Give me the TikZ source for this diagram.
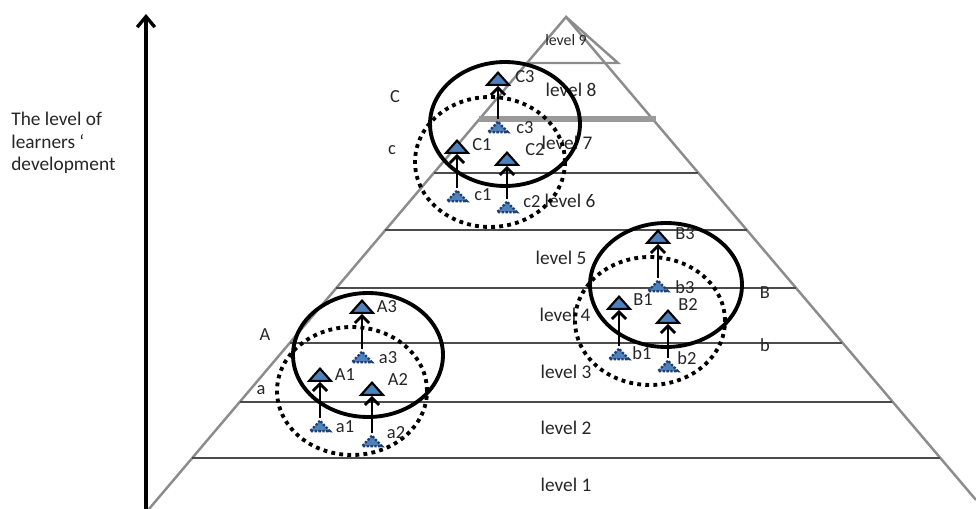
\documentclass[tikz,border=0pt]{standalone}
\usepackage{fontspec}
\setmainfont{Carlito}
\usepackage{xcolor}
\usetikzlibrary{calc, positioning, shapes.geometric, arrows.meta}
\definecolor{triblue}{HTML}{4F81BD}
\definecolor{dotnavy}{HTML}{1F3F6F}

\tikzset{
  pyredge/.style={draw=black!45, line width=1.4pt},
  lvlline/.style={draw=black!70, line width=1.6pt},
  lvltext/.style={font=\fontsize{11}{13}\selectfont, text=black!85, inner sep=0pt},
  tag/.style={font=\fontsize{10.5}{12}\selectfont, text=black!85, inner sep=0pt},
  bigtri/.style={isosceles triangle, shape border rotate=90, isosceles triangle stretches,
    minimum width=12.5pt, minimum height=7pt, inner sep=0pt, draw=black, line width=1.2pt, fill=triblue},
  smalltri/.style={isosceles triangle, shape border rotate=90, isosceles triangle stretches,
    minimum width=11.5pt, minimum height=6pt, inner sep=0pt, draw=dotnavy, line width=1.3pt,
    dash pattern=on 1.3pt off 0.9pt, fill=triblue},
  riseup/.style={-{Straight Barb[length=4pt,width=8pt]}, line width=1.6pt},
  ring/.style={line width=2.2pt},
  dotring/.style={line width=2.2pt, dash pattern=on 2.2pt off 2.4pt},
}

\begin{document}
\begin{tikzpicture}[x=0.02cm, y=-0.02cm]
\useasboundingbox (0,0) rectangle (976,509);

% Eixo vertical (nivel de desenvolvimento):
\coordinate (axisbot) at (146,509);
\coordinate (axistop) at (146,14);
\draw[-{Straight Barb[length=6pt,width=10pt]}, line width=1.9pt] (axisbot) -- (axistop);
\node[lvltext, align=left, anchor=west] (axislabel) at (11,143) {The level of\\learners ‘\\development};

% Contorno da piramide:
\coordinate (apex) at (566,17);
\coordinate (baseL) at (149,509);
\coordinate (baseR) at (976,500);
\draw[pyredge] (baseL) -- (apex) -- (baseR);
\draw[pyredge] (apex) -- (618,63) -- (527,63);

% Linhas entre os niveis:
\draw[draw=black!40, line width=3pt] (479,119) -- (656,119);
\foreach \y in {173,230,288,343,402,458}
  \draw[lvlline] ({566-0.848*(\y-17)},\y) -- ({566+0.848*(\y-17)},\y);

% Nomes dos niveis:
\foreach \n/\x/\y in {1/566/485, 2/566/428, 3/566/372, 4/565/315, 5/561/258, 6/570/201, 7/567/143, 8/571/90}
  \node[lvltext] (lvl\n) at (\x,\y) {level \n};
\node[lvltext, font=\fontsize{9}{11}\selectfont] (lvl9) at (566,40) {level 9};

% Grupo A:
\draw[ring] (368,355) ellipse [x radius=1.5cm, y radius=1.24cm];
\draw[dotring] (352,391) ellipse [x radius=1.5cm, y radius=1.28cm];
\node[bigtri] (A3) at (362,308) {};
\node[bigtri] (A1) at (320,376) {};
\node[bigtri] (A2) at (372,390) {};
\node[smalltri] (a3) at (362,358) {};
\node[smalltri] (a1) at (320,427) {};
\node[smalltri] (a2) at (372,442) {};
\draw[riseup] (a3) -- (A3);
\draw[riseup] (a1) -- (A1);
\draw[riseup] (a2) -- (A2);
\node[tag] (tA3) at (387,307) {A3};
\node[tag] (ta3) at (388,358) {a3};
\node[tag] (tA1) at (345,375) {A1};
\node[tag] (tA2) at (398,380) {A2};
\node[tag] (ta1) at (345,427) {a1};
\node[tag] (ta2) at (396,433) {a2};
\node[tag] (grpA) at (265,335) {A};
\node[tag] (grpa) at (261,390) {a};

% Grupo B:
\draw[ring] (666,285) ellipse [x radius=1.52cm, y radius=1.24cm];
\draw[dotring] (650,321) ellipse [x radius=1.5cm, y radius=1.28cm];
\node[bigtri] (B3) at (658,238) {};
\node[bigtri] (B1) at (619,304) {};
\node[bigtri] (B2) at (668,318) {};
\node[smalltri] (b3) at (658,287) {};
\node[smalltri] (b1) at (619,355) {};
\node[smalltri] (b2) at (668,367) {};
\draw[riseup] (b3) -- (B3);
\draw[riseup] (b1) -- (B1);
\draw[riseup] (b2) -- (B2);
\node[tag] (tB3) at (685,234) {B3};
\node[tag] (tb3) at (685,287) {b3};
\node[tag] (tB1) at (643,300) {B1};
\node[tag] (tB2) at (688,305) {B2};
\node[tag] (tb1) at (642,353) {b1};
\node[tag] (tb2) at (687,358) {b2};
\node[tag] (grpB) at (765,293) {B};
\node[tag] (grpb) at (765,345) {b};

% Grupo C:
\draw[ring] (505,124) ellipse [x radius=1.5cm, y radius=1.24cm];
\draw[dotring] (490,162) ellipse [x radius=1.5cm, y radius=1.3cm];
\node[bigtri] (C3) at (498,80) {};
\node[bigtri] (C1) at (457,148) {};
\node[bigtri] (C2) at (507,160) {};
\node[smalltri] (c3) at (498,128) {};
\node[smalltri] (c1) at (457,197) {};
\node[smalltri] (c2) at (507,208) {};
\draw[riseup] (c3) -- (C3);
\draw[riseup] (c1) -- (C1);
\draw[riseup] (c2) -- (C2);
\node[tag] (tC3) at (525,77) {C3};
\node[tag] (tc3) at (525,128) {c3};
\node[tag] (tC1) at (482,145) {C1};
\node[tag] (tC2) at (535,150) {C2};
\node[tag] (tc1) at (483,195) {c1};
\node[tag] (tc2) at (532,202) {c2};
\node[tag] (grpC) at (395,97) {C};
\node[tag] (grpc) at (392,150) {c};
\end{tikzpicture}
\end{document}
